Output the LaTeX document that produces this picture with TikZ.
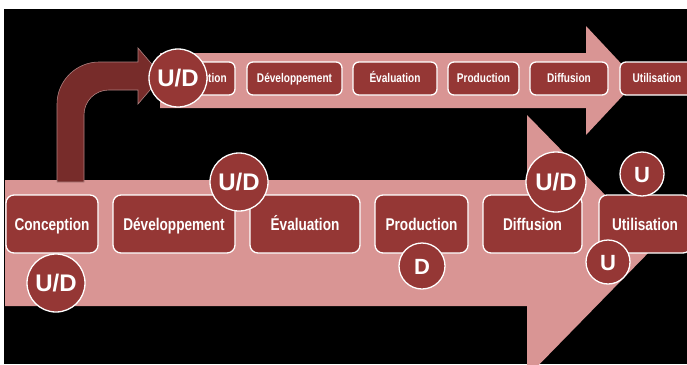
\documentclass[tikz,border=0pt]{standalone}
\usepackage{fontspec}
\setmainfont{Liberation Sans}
\newfontfamily\boxfont{Liberation Sans}[FakeStretch=0.8]
\usepackage{xcolor}
\definecolor{bandpink}{HTML}{D99594}
\definecolor{boxred}{HTML}{953735}
\definecolor{bendred}{HTML}{772C2A}
\tikzset{basebox/.style={draw=white, line width=1.3pt, fill=boxred, inner sep=0pt,
   text=white},
 lowbox/.style={basebox, rounded corners=8pt, minimum height=58pt,
   text height=12.5pt, text depth=0.5pt,
   font=\boxfont\bfseries\fontsize{17}{17}\selectfont},
 highbox/.style={basebox, rounded corners=6pt, minimum height=33pt,
   text height=9pt, text depth=0.4pt,
   font=\boxfont\bfseries\fontsize{12.6}{12.6}\selectfont},
 bigdisc/.style={basebox, circle, minimum size=58pt,
   text height=17pt, text depth=0pt,
   font=\bfseries\fontsize{24}{24}\selectfont},
 smalldisc/.style={basebox, circle, minimum size=44pt,
   text height=16pt, text depth=0pt,
   font=\bfseries\fontsize{22}{22}\selectfont},
 }

\begin{document}
\begin{tikzpicture}[x=1pt, y=-1pt]
        \useasboundingbox (0,0) rectangle (687,364);
        \fill[white] (0,0) rectangle (687,364);
        \fill[black] (4,9) rectangle (687,364);
        \begin{scope}
        \clip (4,9) rectangle (687,364);
        % the two wide arrows
        \fill[bandpink] (5,180) -- (527,180) -- (527,115) -- (655,246)
            -- (527,377) -- (527,306) -- (5,306) -- cycle;
        \fill[bandpink] (160,53) -- (586,53) -- (586,26) -- (637,80.5)
            -- (586,135) -- (586,108) -- (160,108) -- cycle;
        % bent arrow
        \filldraw[fill=bendred, draw=bendred!60!white, line width=0.6pt]
            (57,182) -- (57,104) .. controls (57,81) and (76,62) .. (99,62)
            -- (138,62) -- (138,48) -- (162,76) -- (138,104) -- (138,90)
            -- (109,90) .. controls (95,90) and (84,101) .. (84,115)
            -- (84,182) -- cycle;
        % upper row
        \node[highbox, minimum width=72pt] (conc2) at (199,78.5) {Conception};
        \node[highbox, minimum width=95pt] (devel2) at (294.5,78.5) {Développement};
        \node[highbox, minimum width=84pt] (eval2) at (395,78.5) {Évaluation};
        \node[highbox, minimum width=71pt] (prod2) at (483.5,78.5) {Production};
        \node[highbox, minimum width=78pt] (diff2) at (569,78.5) {Diffusion};
        \node[highbox, minimum width=74pt] (util2) at (657,78.5) {Utilisation};
        \node[bigdisc] (udtop) at (178,78) {U/D};
        % lower row
        \node[lowbox, minimum width=92pt] (conc) at (52,224) {Conception};
        \node[lowbox, minimum width=122pt] (devel) at (174,224) {Développement};
        \node[lowbox, minimum width=110pt] (eval) at (305,224) {Évaluation};
        \node[lowbox, minimum width=93pt] (prod) at (421.5,224) {Production};
        \node[lowbox, minimum width=99pt] (diff) at (532.5,224) {Diffusion};
        \node[lowbox, minimum width=92pt] (util) at (645,224) {Utilisation};
        \node[bigdisc] (udconc) at (56,283) {U/D};
        \node[bigdisc] (uddev) at (239,182) {U/D};
        \node[bigdisc, minimum size=60pt] (uddiff) at (556,182) {U/D};
        \node[smalldisc, minimum size=46pt] (dprod) at (422,266) {D};
        \node[smalldisc] (uhigh) at (642,174) {U};
        \node[smalldisc] (ulow) at (608,262) {U};
        \end{scope}
    \end{tikzpicture}
\end{document}
